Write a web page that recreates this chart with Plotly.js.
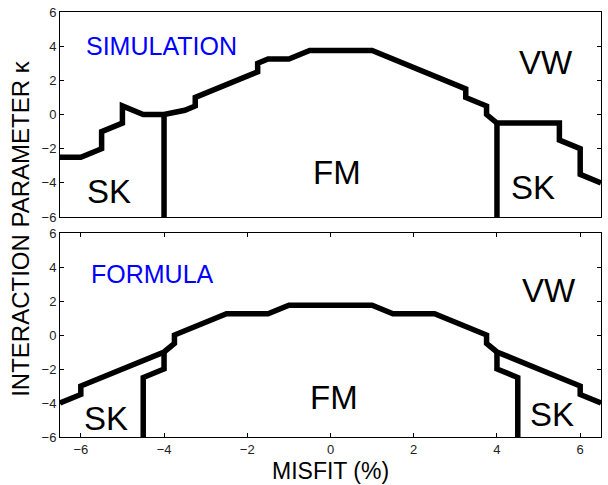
<!DOCTYPE html>
<html>
<head>
<meta charset="utf-8">
<script src="https://cdn.plot.ly/plotly-3.0.1.min.js"></script>
<style>html,body{margin:0;padding:0;background:#fff;}#chart{width:608px;height:485px;}</style>
</head>
<body>
<div id="chart"></div>
<script>
// SIMULATION panel: upper phase boundary
const simBoundaryX = [-6.5,-6,-5.5,-5.5,-5,-5,-4.5,-4,-3.5,-3.25,-3.25,-1.75,-1.75,-1.5,-1,-0.5,1,3.25,3.25,3.75,3.75,4,5.5,5.5,6,6,6.5];
const simBoundaryY = [-2.5,-2.5,-2,-1,-0.5,0.5,0,0,0.25,0.5,1,2.5,3,3.25,3.25,3.75,3.75,1.5,1,0.5,0,-0.5,-0.5,-1.5,-2,-3.5,-4];
// SIMULATION panel: SK / FM separators
const simLeftSKX = [-4,-4];
const simLeftSKY = [0,-6];
const simRightSKX = [4,4];
const simRightSKY = [-0.5,-6];

// FORMULA panel: upper phase boundary
const formBoundaryX = [-6.5,-6,-6,-4,-3.75,-3.75,-2.5,-1.5,-1,1,1.5,2.5,3.75,3.75,4,6,6,6.5];
const formBoundaryY = [-4,-3.5,-3,-1,-0.5,0,1.25,1.25,1.75,1.75,1.25,1.25,0,-0.5,-1,-3,-3.5,-4];
// FORMULA panel: SK / FM separators
const formLeftSKX = [-4,-4,-4.5,-4.5];
const formLeftSKY = [-1,-2,-2.5,-6];
const formRightSKX = [4,4,4.5,4.5];
const formRightSKY = [-1,-2,-2.5,-6];

// Axis ticks
const xTicks = [-6,-4,-2,0,2,4,6];
const yTicks = [-6,-4,-2,0,2,4,6];

// Region labels
const panelTitles = ["SIMULATION","FORMULA"];
const phaseLabels = ["FM","SK","SK","VW"];
const simLabelX = [0.16,-5.33,4.87,5.18];
const simLabelY = [-3.42,-4.49,-4.25,3.04];
const formLabelX = [0.08,-5.39,5.33,5.26];
const formLabelY = [-3.68,-4.9,-4.7,2.64];

const lineStyle = {color:'#000', width:5.5};
function tr(x, y, xa, ya){
  return {x:x, y:y, xaxis:xa, yaxis:ya, mode:'lines', line:lineStyle, hoverinfo:'skip', showlegend:false};
}
const data = [
  tr(simBoundaryX, simBoundaryY, 'x', 'y'),
  tr(simLeftSKX, simLeftSKY, 'x', 'y'),
  tr(simRightSKX, simRightSKY, 'x', 'y'),
  tr(formBoundaryX, formBoundaryY, 'x2', 'y2'),
  tr(formLeftSKX, formLeftSKY, 'x2', 'y2'),
  tr(formRightSKX, formRightSKY, 'x2', 'y2')
];

const font = {family:'Liberation Sans, Arial, sans-serif', color:'#000'};
const tickFont = {family:'Liberation Sans, Arial, sans-serif', size:13, color:'#222'};

function xAxis(showLabels, anchor){
  return {range:[-6.5,6.5], tickvals:xTicks, showticklabels:showLabels, ticks: showLabels ? 'inside' : '',
    ticklen:4, tickcolor:'#000', showline:true, mirror: showLabels ? 'ticks' : true, linecolor:'#000', linewidth:1,
    showgrid:false, zeroline:false, tickfont:tickFont, anchor:anchor, domain:[0,1]};
}
function yAxis(domain, anchor){
  return {range:[-6,6], tickvals:yTicks, ticks:'inside', ticklen:4, tickcolor:'#000', showline:true, mirror:'ticks',
    linecolor:'#000', linewidth:1, showgrid:false, zeroline:false, tickfont:tickFont, domain:domain, anchor:anchor};
}

const annotations = [];
function addLabels(xs, ys, xref, yref){
  for (let i=0;i<phaseLabels.length;i++){
    annotations.push({x:xs[i], y:ys[i], xref:xref, yref:yref, text:phaseLabels[i], showarrow:false,
      font:Object.assign({}, font, {size:33}), xanchor:'center', yanchor:'middle'});
  }
}
addLabels(simLabelX, simLabelY, 'x', 'y');
addLabels(formLabelX, formLabelY, 'x2', 'y2');
annotations.push({x:-4.07, y:4.0, xref:'x', yref:'y', text:panelTitles[0], showarrow:false,
  font:Object.assign({}, font, {size:25, color:'#0000ff'}), xanchor:'center', yanchor:'middle'});
annotations.push({x:-4.27, y:3.6, xref:'x2', yref:'y2', text:panelTitles[1], showarrow:false,
  font:Object.assign({}, font, {size:25, color:'#0000ff'}), xanchor:'center', yanchor:'middle'});
annotations.push({x:-0.072, y:0.49, xref:'paper', yref:'paper', text:'INTERACTION PARAMETER κ', textangle:-90,
  showarrow:false, font:Object.assign({}, font, {size:24}), xanchor:'center', yanchor:'middle'});
annotations.push({x:0, y:-0.08, xref:'x2', yref:'paper', text:'MISFIT (%)', showarrow:false,
  font:Object.assign({}, font, {size:23}), xanchor:'center', yanchor:'middle'});

const layout = {
  width:608, height:485,
  margin:{l:60, r:7, t:12, b:48},
  paper_bgcolor:'#fff', plot_bgcolor:'#fff',
  showlegend:false,
  xaxis: xAxis(false, 'y'),
  yaxis: yAxis([0.5176,1], 'x'),
  xaxis2: xAxis(true, 'y2'),
  yaxis2: yAxis([0,0.48], 'x2'),
  annotations: annotations,
  font: font
};

Plotly.newPlot('chart', data, layout, {displayModeBar:false, staticPlot:true});
</script>
</body>
</html>
